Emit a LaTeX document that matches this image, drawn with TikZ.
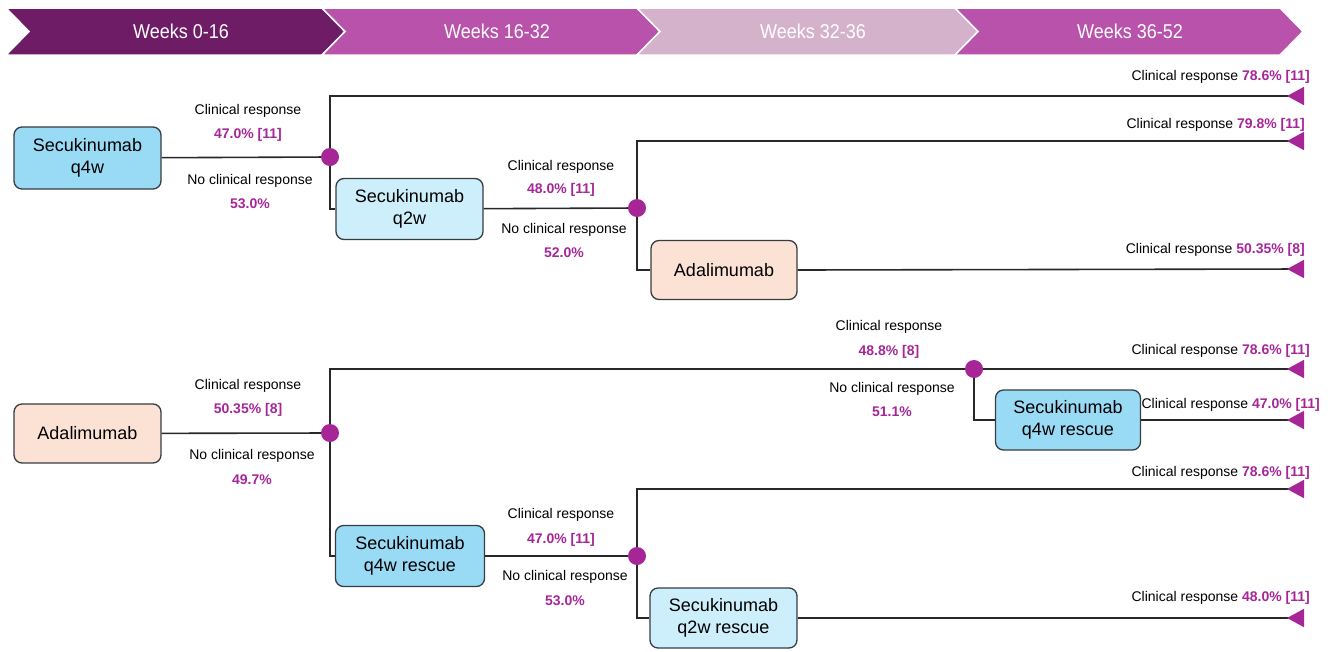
\documentclass[tikz,border=0pt]{standalone}
\usepackage{graphicx}
\usepackage{fontspec}
\setmainfont{Liberation Sans}
\usetikzlibrary{arrows.meta}
\definecolor{hdA}{RGB}{111,28,103}
\definecolor{hdB}{RGB}{185,82,170}
\definecolor{hdC}{RGB}{212,178,204}
\definecolor{nblue}{RGB}{153,218,245}
\definecolor{nlblue}{RGB}{205,239,251}
\definecolor{npeach}{RGB}{252,226,212}
\definecolor{pur}{RGB}{166,38,152}
\definecolor{ln}{RGB}{40,40,40}
\definecolor{bd}{RGB}{55,60,65}
\begin{document}
\begin{tikzpicture}[x=1pt,y=-1pt,
  seg/.style={draw=white,line width=1.5pt},
  hdtxt/.style={text=white,font=\fontsize{20}{24}\selectfont,inner sep=0pt},
  box/.style={draw=bd,line width=1.3pt,rounded corners=8pt,align=center,
    font=\fontsize{18}{22}\selectfont,inner sep=0pt},
  bluebox/.style={box,fill=nblue},
  lbluebox/.style={box,fill=nlblue},
  peachbox/.style={box,fill=npeach},
  dot/.style={circle,fill=pur,minimum size=18pt,inner sep=0pt},
  lbl/.style={font=\fontsize{14}{16}\selectfont,inner sep=0pt,text height=10pt,text depth=3pt},
  num/.style={lbl,text=pur,font=\fontsize{14}{16}\selectfont\bfseries},
  conn/.style={draw=ln,line width=1.6pt},
  tip/.style={conn,-{Triangle[reversed,length=17pt,width=18pt,color=pur]}}
]
\useasboundingbox (0,0) rectangle (1330,651);
% header
\fill[hdA,seg] (6,8) -- (322,8) -- (345,31.5) -- (322,55) -- (6,55) -- (29,31.5) -- cycle;
\fill[hdB,seg] (322,8) -- (637,8) -- (660,31.5) -- (637,55) -- (322,55) -- (345,31.5) -- cycle;
\fill[hdC,seg] (637,8) -- (955,8) -- (978,31.5) -- (955,55) -- (637,55) -- (660,31.5) -- cycle;
\fill[hdB,seg] (955,8) -- (1280,8) -- (1303,31.5) -- (1280,55) -- (955,55) -- (978,31.5) -- cycle;
\node[hdtxt] (h1) at (181,31.5) {\scalebox{0.9}[1]{Weeks 0-16}};
\node[hdtxt] (h2) at (497,31.5) {\scalebox{0.9}[1]{Weeks 16-32}};
\node[hdtxt] (h3) at (813,31.5) {\scalebox{0.9}[1]{Weeks 32-36}};
\node[hdtxt] (h4) at (1130,31.5) {\scalebox{0.9}[1]{Weeks 36-52}};

% nodes top tree
\node[bluebox,minimum width=147pt,minimum height=62pt] (a1) at (87.5,158) {Secukinumab\\q4w};
\node[lbluebox,minimum width=147pt,minimum height=61pt] (b1) at (409.5,209) {Secukinumab\\q2w};
\node[peachbox,minimum width=146pt,minimum height=59pt] (c1) at (724,270) {Adalimumab};
\node[dot] (d1) at (330,157) {};
\node[dot] (d2) at (637,208) {};
\coordinate (e1) at (1304,96);
\coordinate (e2) at (1304,141);
\coordinate (e3) at (1304,269);

% nodes bottom tree
\node[peachbox,minimum width=147pt,minimum height=59pt] (a2) at (87.5,433.5) {Adalimumab};
\node[bluebox,minimum width=145pt,minimum height=60pt] (r1) at (1068,420) {Secukinumab\\q4w rescue};
\node[bluebox,minimum width=149pt,minimum height=61pt] (b2) at (410,556) {Secukinumab\\q4w rescue};
\node[lbluebox,minimum width=147pt,minimum height=60pt] (c2) at (723.5,618) {Secukinumab\\q2w rescue};
\node[dot] (d3) at (330,433) {};
\node[dot] (d4) at (974,369) {};
\node[dot] (d5) at (637,556) {};
\coordinate (e4) at (1304,369);
\coordinate (e5) at (1304,420);
\coordinate (e6) at (1304,489);
\coordinate (e7) at (1304,618);

% connectors top
\draw[conn] (a1) -- (d1);
\draw[tip] (d1) |- (e1);
\draw[conn] (d1) |- (b1);
\draw[conn] (b1) -- (d2);
\draw[tip] (d2) |- (e2);
\draw[conn] (d2) |- (c1);
\draw[tip] (c1.east) -- (e3);

% connectors bottom
\draw[conn] (a2) -- (d3);
\draw[conn] (d3) |- (d4);
\draw[tip] (d4) -- (e4);
\draw[conn] (d4) |- (r1);
\draw[tip] (r1.east) -- (e5);
\draw[conn] (d3) |- (b2);
\draw[conn] (b2) -- (d5);
\draw[tip] (d5) |- (e6);
\draw[conn] (d5) |- (c2);
\draw[tip] (c2.east) -- (e7);

% branch labels
\node[lbl] (l1) at (248,111) {Clinical response};
\node[num] (n1) at (248,135) {47.0\% [11]};
\node[lbl] (l2) at (250,181) {No clinical response};
\node[num] (n2) at (250,205) {53.0\%};
\node[lbl] (l3) at (561,167) {Clinical response};
\node[num] (n3) at (561,190) {48.0\% [11]};
\node[lbl] (l4) at (564,230) {No clinical response};
\node[num] (n4) at (564,254) {52.0\%};
\node[lbl] (l5) at (248,386) {Clinical response};
\node[num] (n5) at (248,410) {50.35\% [8]};
\node[lbl] (l6) at (252,456) {No clinical response};
\node[num] (n6) at (252,481) {49.7\%};
\node[lbl] (l7) at (561,515) {Clinical response};
\node[num] (n7) at (561,540) {47.0\% [11]};
\node[lbl] (l8) at (565,577) {No clinical response};
\node[num] (n8) at (565,602) {53.0\%};
\node[lbl] (l9) at (889,327) {Clinical response};
\node[num] (n9) at (889,352) {48.8\% [8]};
\node[lbl] (l10) at (892,389) {No clinical response};
\node[num] (n10) at (892,413) {51.1\%};

% end labels
\node[lbl,anchor=east] (o1) at (1310,77) {Clinical response \textcolor{pur}{\bfseries 78.6\% [11]}};
\node[lbl,anchor=east] (o2) at (1305,125) {Clinical response \textcolor{pur}{\bfseries 79.8\% [11]}};
\node[lbl,anchor=east] (o3) at (1305,250) {Clinical response \textcolor{pur}{\bfseries 50.35\% [8]}};
\node[lbl,anchor=east] (o4) at (1310,351) {Clinical response \textcolor{pur}{\bfseries 78.6\% [11]}};
\node[lbl,anchor=east] (o5) at (1320,405) {Clinical response \textcolor{pur}{\bfseries 47.0\% [11]}};
\node[lbl,anchor=east] (o6) at (1310,473) {Clinical response \textcolor{pur}{\bfseries 78.6\% [11]}};
\node[lbl,anchor=east] (o7) at (1310,598) {Clinical response \textcolor{pur}{\bfseries 48.0\% [11]}};
\end{tikzpicture}
\end{document}
